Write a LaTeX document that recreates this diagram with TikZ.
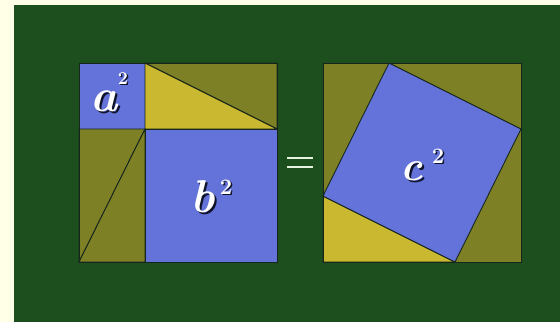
\documentclass[tikz,border=0pt]{standalone}
\usepackage{fontspec}
\setmainfont{Latin Modern Roman}
\definecolor{cream}{HTML}{FFFEE6}
\definecolor{board}{HTML}{1D4F1E}
\definecolor{sqblue}{HTML}{6373D9}
\definecolor{olive}{HTML}{7E8026}
\definecolor{tyellow}{HTML}{C9B830}
\definecolor{edge}{HTML}{16261C}
\definecolor{eqcol}{HTML}{E4F2E0}
\definecolor{shade}{HTML}{10142A}
\tikzset{
  piece/.style={draw=edge, line width=0.9pt, line join=round},
  lbl/.style={anchor=base, inner sep=0pt},
}
\newcommand{\shtxt}[2]{\rlap{\hspace{#1}\raisebox{-#1}{\color{shade}#2}}{\color{white}#2}}
\begin{document}
\begin{tikzpicture}[x=1pt,y=-1pt]
\useasboundingbox (0,0) rectangle (560,322);
\fill[cream] (0,0) rectangle (560,322);
\fill[board] (14,5) rectangle (560,322);
% ---- left square
\filldraw[piece, fill=sqblue] (79,63) rectangle (145,129);
\filldraw[piece, fill=olive] (145,63) -- (277,63) -- (277,129) -- cycle;
\filldraw[piece, fill=tyellow] (145,63) -- (277,129) -- (145,129) -- cycle;
\filldraw[piece, fill=olive] (79,129) -- (145,129) -- (79,262) -- cycle;
\filldraw[piece, fill=olive] (145,129) -- (145,262) -- (79,262) -- cycle;
\filldraw[piece, fill=sqblue] (145,129) rectangle (277,262);
\draw[piece] (79,63) rectangle (277,262);
% ---- equals
\draw[eqcol, line width=2pt] (287,157.5) -- (313,157.5);
\draw[eqcol, line width=2pt] (287,166.5) -- (313,166.5);
% ---- right square
\filldraw[piece, fill=olive] (323,63) rectangle (521,262);
\filldraw[piece, fill=tyellow] (323,196) -- (455,262) -- (323,262) -- cycle;
\filldraw[piece, fill=sqblue] (389,63) -- (521,129) -- (455,262) -- (323,196) -- cycle;
\draw[piece] (323,63) rectangle (521,262);
% ---- labels
\node[lbl, font=\fontsize{46}{46}\selectfont\bfseries\itshape] (la) at (104,111) {\shtxt{2pt}{a}};
\node[lbl, font=\fontsize{18}{18}\selectfont\bfseries] (la2) at (123,84) {\shtxt{1.4pt}{2}};
\node[lbl, font=\fontsize{46}{46}\selectfont\bfseries\itshape] (lb) at (203,212) {\shtxt{2pt}{b}};
\node[lbl, font=\fontsize{22}{22}\selectfont\bfseries] (lb2) at (226,194) {\shtxt{1.6pt}{2}};
\node[lbl, font=\fontsize{42}{42}\selectfont\bfseries\itshape] (lc) at (412,180) {\shtxt{2pt}{c}};
\node[lbl, font=\fontsize{22}{22}\selectfont\bfseries] (lc2) at (438,163) {\shtxt{1.6pt}{2}};
\end{tikzpicture}
\end{document}
